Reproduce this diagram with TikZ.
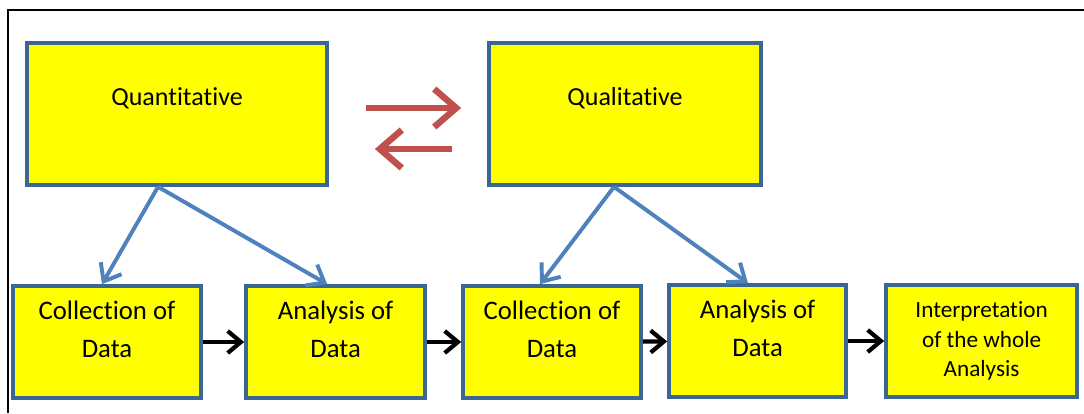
\documentclass[tikz,border=0pt]{standalone}
\usepackage{fontspec}
\setmainfont{Carlito}[Ligatures=NoCommon]
\usepackage{xcolor}
\usepackage{tikz}
\usetikzlibrary{arrows.meta}
\definecolor{boxblue}{HTML}{3B6593}
\definecolor{boxyellow}{RGB}{255,255,0}
\definecolor{arrblue}{HTML}{4F81BD}
\definecolor{arrred}{HTML}{C0504D}
\tikzset{ybox/.style={rectangle,draw=boxblue,fill=boxyellow,line width=2.6pt,align=center}}
\tikzset{topbox/.style={ybox,minimum height=3.55cm,font=\fontsize{18.5}{22}\selectfont,text height=0.5cm,text depth=0.93cm}}
\tikzset{lowbox/.style={ybox,minimum height=2.8cm,font=\fontsize{19}{27}\selectfont,text height=1.3cm,text depth=0.52cm}}
\tikzset{bluearr/.style={draw=arrblue,line width=2.8pt,-{Straight Barb[length=0.38cm,width=0.6cm]}}}
\tikzset{redarr/.style={draw=arrred,line width=4.6pt,-{Straight Barb[length=0.55cm,width=0.95cm]}}}
\tikzset{blackarr/.style={draw=black,line width=3pt,-{Straight Barb[length=0.33cm,width=0.55cm]}}}

\begin{document}
\begin{tikzpicture}
        \useasboundingbox (0,0) rectangle (27.1,10.325);
        \draw [line width=0.8pt] (27.1,10.075) -- (0.2,10.075) -- (0.2,0);

        \node[topbox,minimum width=7.5cm] (quant) at (4.425,7.475) {Quantitative};
        \node[topbox,minimum width=6.8cm] (qual) at (15.625,7.475) {Qualitative};

        \node[lowbox,minimum width=4.7cm] (coll1) at (2.675,1.775) {Collection of\\Data};
        \node[lowbox,minimum width=4.48cm] (an1) at (8.39,1.775) {Analysis of\\Data};
        \node[lowbox,minimum width=4.45cm] (coll2) at (13.8,1.775) {Collection of\\Data};
        \node[lowbox,minimum width=4.43cm] (an2) at (18.94,1.8) {Analysis of\\Data};
        \node[ybox,minimum width=4.78cm,minimum height=2.8cm,font=\fontsize{16.5}{21}\selectfont] (interp) at (24.54,1.8) {Interpretation\\of the whole\\Analysis};

        \draw [redarr,shorten <=0.925cm,shorten >=0.65cm] ([yshift=0.15cm]quant.east) to [] ([yshift=0.15cm]qual.west);
        \draw [redarr,shorten <=0.875cm,shorten >=1.15cm] ([yshift=-0.875cm]qual.west) to [] ([yshift=-0.875cm]quant.east);

        \draw [bluearr] ([xshift=-0.475cm]quant.south) to [] ([xshift=-0.125cm]coll1.north);
        \draw [bluearr] ([xshift=-0.475cm]quant.south) to [] ([xshift=-0.21cm]an1.north);
        \draw [bluearr] ([xshift=-0.275cm]qual.south) to [] ([xshift=-0.3cm]coll2.north);
        \draw [bluearr] ([xshift=-0.275cm]qual.south) to [] ([xshift=-0.24cm]an2.north);

        \draw [blackarr] (coll1) to [] (an1);
        \draw [blackarr] (an1) to [] (coll2);
        \draw [blackarr] (coll2) to [] (an2);
        \draw [blackarr] (an2) to [] (interp);

    \end{tikzpicture}
\end{document}
